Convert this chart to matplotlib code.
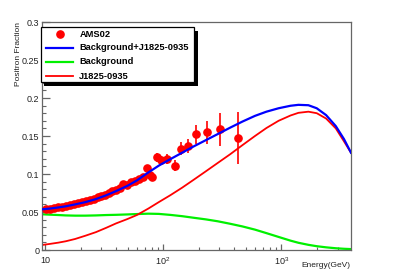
import matplotlib
matplotlib.use("Agg")
import matplotlib.pyplot as plt
from matplotlib.lines import Line2D
from matplotlib.patches import Rectangle
from matplotlib.ticker import FixedLocator, LogLocator, NullFormatter, MultipleLocator

plt.rcParams['font.family'] = ['Liberation Sans', 'DejaVu Sans']
plt.rcParams['mathtext.default'] = 'regular'

# ---- data ----
ams_energy = [10.3, 11.1, 11.95, 12.9, 13.95, 15.1, 16.35, 17.7, 19.15, 20.7,
              22.35, 24.1, 25.95, 27.9, 29.95, 32.15, 34.55, 37.15, 39.95, 42.95,
              46.15, 49.6, 53.35, 57.45, 61.95, 67.0, 72.6, 77.6, 80.5, 89.0,
              96.0, 107.0, 125.0, 142.0, 164.0, 190.0, 234.0, 303.0, 427.0]
ams_frac = [0.0535, 0.0545, 0.0555, 0.0560, 0.0570, 0.0580, 0.0590, 0.0605, 0.0615, 0.0630,
            0.0645, 0.0655, 0.0675, 0.0700, 0.0710, 0.0730, 0.0750, 0.0775, 0.0790, 0.0820,
            0.0875, 0.0855, 0.0890, 0.0910, 0.0935, 0.0960, 0.1075, 0.0987, 0.0957, 0.1220,
            0.1180, 0.1200, 0.1110, 0.1330, 0.1370, 0.1520, 0.1550, 0.1590, 0.1470]
ams_err = [0.0012, 0.0012, 0.0012, 0.0013, 0.0013, 0.0013, 0.0014, 0.0014, 0.0015, 0.0015,
           0.0016, 0.0017, 0.0018, 0.0019, 0.0020, 0.0021, 0.0022, 0.0023, 0.0024, 0.0025,
           0.0027, 0.0029, 0.0030, 0.0032, 0.0034, 0.0037, 0.0042, 0.0045, 0.0048, 0.0058,
           0.0062, 0.0065, 0.0072, 0.0085, 0.0095, 0.0125, 0.0150, 0.0215, 0.0340]

curve_energy = [9.44, 11, 13, 15, 18, 22, 27, 33, 40, 50, 60, 75, 92, 115, 145, 180, 230,
                290, 370, 470, 600, 750, 950, 1200, 1400, 1700, 2000, 2400, 2900, 3400, 3900]
total_frac = [0.0535, 0.0545, 0.0560, 0.0575, 0.0600, 0.0630, 0.0670, 0.0720, 0.0775, 0.0845,
              0.0915, 0.1020, 0.1110, 0.1195, 0.1280, 0.1360, 0.1445, 0.1525, 0.1610, 0.1690,
              0.1765, 0.1820, 0.1865, 0.1898, 0.1910, 0.1905, 0.1865, 0.1775, 0.1630, 0.1460,
              0.1280]
background_frac = [0.0470, 0.0465, 0.0460, 0.0455, 0.0452, 0.0452, 0.0455, 0.0460, 0.0463, 0.0468,
                   0.0473, 0.0478, 0.0475, 0.0462, 0.0445, 0.0425, 0.0403, 0.0378, 0.0345, 0.0310,
                   0.0268, 0.0222, 0.0172, 0.0123, 0.0095, 0.0068, 0.0050, 0.0035, 0.0023, 0.0016,
                   0.0012]
pulsar_frac = [0.0066, 0.0080, 0.0097, 0.0115, 0.0145, 0.0188, 0.0235, 0.0292, 0.0350, 0.0408,
               0.0460, 0.0545, 0.0630, 0.0720, 0.0820, 0.0920, 0.1035, 0.1145, 0.1260, 0.1380,
               0.1500, 0.1605, 0.1700, 0.1770, 0.1805, 0.1820, 0.1800, 0.1730, 0.1600, 0.1430,
               0.1280]

legend_labels = ["AMS02", "Background+J1825-0935", "Background", "J1825-0935"]
ytick_vals = [0, 0.05, 0.1, 0.15, 0.2, 0.25, 0.3]
ytick_labels = ["0", "0.05", "0.1", "0.15", "0.2", "0.25", "0.3"]
xtick_vals = [10, 100, 1000]
xtick_labels = ["10", "$10^{2}$", "$10^{3}$"]

RED, BLUE, GREEN = '#ff0000', '#0000ff', '#00f000'
W, H = 409, 278

fig = plt.figure(figsize=(W / 100, H / 100), dpi=100)
ax = fig.add_axes([42 / W, 1 - 250 / H, (351 - 42) / W, (250 - 22) / H])

ax.errorbar(ams_energy, ams_frac, yerr=ams_err, fmt='o', color=RED, ms=5.2,
            elinewidth=1.2, capsize=0, zorder=3)
ax.plot(curve_energy, total_frac, color=BLUE, lw=1.6, zorder=4, solid_joinstyle='round')
ax.plot(curve_energy, background_frac, color=GREEN, lw=1.6, zorder=2, solid_joinstyle='round')
ax.plot(curve_energy, pulsar_frac, color=RED, lw=1.3, zorder=2, solid_joinstyle='round')

ax.set_xscale('log')
ax.set_xlim(9.44, 3900)
ax.set_ylim(0, 0.3)

ax.xaxis.set_major_locator(FixedLocator(xtick_vals))
ax.set_xticklabels(xtick_labels)
ax.xaxis.set_minor_locator(LogLocator(base=10, subs=range(2, 10)))
ax.xaxis.set_minor_formatter(NullFormatter())
ax.set_yticks(ytick_vals)
ax.set_yticklabels(ytick_labels)
ax.yaxis.set_minor_locator(MultipleLocator(0.01))

frame = '#666666'
for s in ax.spines.values():
    s.set_color(frame)
    s.set_linewidth(0.9)
ax.tick_params(axis='both', which='both', direction='in', colors=frame,
               labelcolor='#222222', labelsize=6.5, top=False, right=False)
ax.tick_params(axis='y', which='major', length=6, width=0.9, pad=2)
ax.tick_params(axis='y', which='minor', length=2.6, width=0.8)
ax.tick_params(axis='x', which='major', length=4.5, width=0.9, pad=4)
ax.tick_params(axis='x', which='minor', length=2.2, width=0.8)

fig.text(350.7 / W, 1 - 265.7 / H, "Energy(GeV)", ha='right', va='center',
         fontsize=6, color='#222222')
fig.text(18 / W, 1 - 22 / H, "Positron Fraction", ha='center', va='top',
         rotation=90, fontsize=6, color='#222222')

# legend box with shadow (figure pixel coordinates)
lx0, ly0, lx1, ly1 = 40.7, 26.7, 194.3, 81.7
tr = fig.transFigure
fig.patches.append(Rectangle(((lx0 + 3.5) / W, 1 - (ly1 + 4) / H), (lx1 - lx0) / W,
                             (ly1 - ly0) / H, transform=tr, facecolor='black',
                             edgecolor='black', lw=0, zorder=10))
fig.patches.append(Rectangle((lx0 / W, 1 - ly1 / H), (lx1 - lx0) / W, (ly1 - ly0) / H,
                             transform=tr, facecolor='white', edgecolor='black',
                             lw=0.9, zorder=11))
row_y = [34.3, 47.7, 61.7, 76.0]
styles = [dict(marker='o', ls='none', color=RED, ms=5.2),
          dict(color=BLUE, lw=1.6), dict(color=GREEN, lw=1.6), dict(color=RED, lw=1.3)]
for yy, lab, st in zip(row_y, legend_labels, styles):
    if st.get('marker'):
        fig.lines.append(Line2D([60 / W], [1 - yy / H], transform=tr, zorder=12, **st))
    else:
        fig.lines.append(Line2D([46 / W, 73 / W], [1 - yy / H, 1 - yy / H],
                                transform=tr, zorder=12, **st))
    fig.text(79.3 / W, 1 - yy / H, lab, ha='left', va='center', fontsize=6.7,
             fontweight='bold', color='black', zorder=13)

fig.savefig('out.png', dpi=100)
